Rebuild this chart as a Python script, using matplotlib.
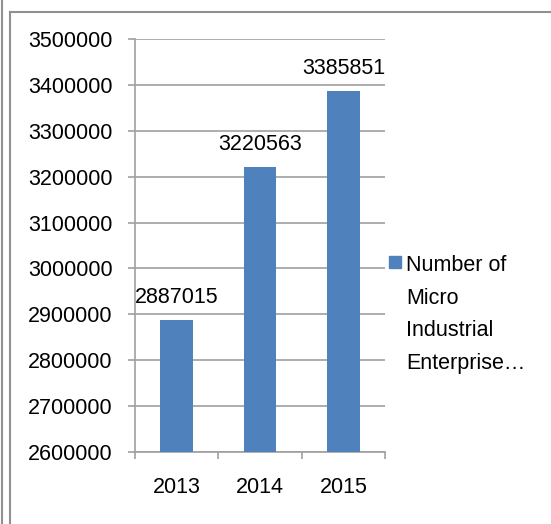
import matplotlib
matplotlib.use("Agg")
from matplotlib import pyplot as plt
from matplotlib.lines import Line2D
from matplotlib.patches import Rectangle

years = ["2013", "2014", "2015"]
counts = [2887015, 3220563, 3385851]
series_name = "Number of\nMicro\nIndustrial\nEnterprise…"
yticks = [2600000, 2700000, 2800000, 2900000, 3000000, 3100000, 3200000, 3300000, 3400000, 3500000]

plt.rcParams["font.family"] = ["Liberation Sans", "DejaVu Sans"]
W, H = 551, 524
fig = plt.figure(figsize=(W / 100, H / 100), dpi=100)
ax = fig.add_axes([135 / W, 1 - 452 / H, 250 / W, 413 / H])

blue = "#4F81BD"
grid = "#A0A0A0"
fs = 15.5
x = range(len(years))
ax.bar(x, counts, width=0.39, color=blue, zorder=3)
for i, v in enumerate(counts):
    ax.annotate(str(v), (i, v), xytext=(0, 9), textcoords="offset points",
                ha="center", va="bottom", fontsize=fs)

ax.set_xlim(-0.5, 2.5)
ax.set_ylim(2600000, 3500000)
ax.set_yticks(yticks)
ax.set_yticklabels([str(t) for t in yticks])
ax.set_xticks(x)
ax.set_xticklabels(years)
ax.set_xticks([-0.5, 0.5, 1.5, 2.5], minor=True)
ax.tick_params(axis="x", which="major", length=0, labelsize=fs, pad=18)
ax.tick_params(axis="x", which="minor", length=5, color=grid, width=1.2)
ax.tick_params(axis="y", length=5, color=grid, width=1.2, labelsize=fs, pad=11)
ax.yaxis.grid(True, color=grid, linewidth=1.2, zorder=0)
for s in ["top", "right"]:
    ax.spines[s].set_visible(False)
for s in ["left", "bottom"]:
    ax.spines[s].set_color(grid)
    ax.spines[s].set_linewidth(1.2)

# legend drawn by hand so the key sits beside the first line
fig.add_artist(Rectangle((389 / W, 1 - 268 / H), 12 / W, 12 / H, color=blue,
                         transform=fig.transFigure))
fig.text(406 / W, 1 - 255 / H, series_name, fontsize=fs, va="top", ha="left",
         linespacing=1.72)

# chart border lines
fig.add_artist(Line2D([2 / W, 2 / W], [0, 1], color="#909090", lw=1.5))
fig.add_artist(Line2D([10 / W, 10 / W], [0, 1 - 12 / H], color="#909090", lw=1.5))
fig.add_artist(Line2D([10 / W, 1], [1 - 12 / H, 1 - 12 / H], color="#909090", lw=1.5))

fig.savefig("out.png", dpi=100)
